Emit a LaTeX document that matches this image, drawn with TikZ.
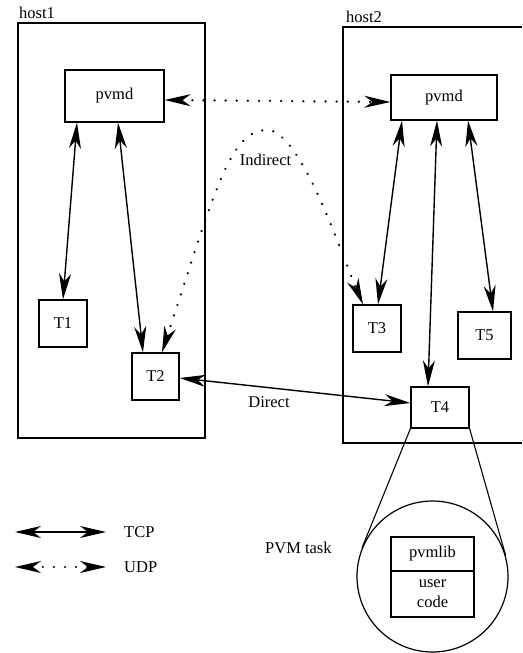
\documentclass[tikz,border=0pt]{standalone}
\usepackage{fontspec}
\setmainfont{Liberation Serif}
\usetikzlibrary{arrows.meta,calc}
\begin{document}
\begin{tikzpicture}[x=1pt,y=-1pt,
  every node/.style={font=\fontsize{16.5}{20}\selectfont, inner sep=0pt},
  box/.style={draw, line width=1.2pt, inner sep=0pt},
  frame/.style={line width=1.2pt},
  tcp/.style={line width=1.4pt, {Stealth[length=26pt,width=12pt,inset=8pt]}-{Stealth[length=26pt,width=12pt,inset=8pt]}},
  udp/.style={tcp, dash pattern=on 0.1pt off 11pt, line width=2.4pt, line cap=round},
  thinline/.style={line width=1.1pt}]
\fill[white] (0,0) rectangle (522,653);
\useasboundingbox (0,0) rectangle (522,653);
% hosts
\node[box, minimum width=187pt, minimum height=415pt] (h1) at (111.5,230.5) {};
\node[anchor=base west] (h1l) at (19,19) {host1};
\coordinate (h2a) at (522,27);
\coordinate (h2b) at (343,27);
\coordinate (h2c) at (343,443);
\coordinate (h2d) at (522,443);
\draw[frame] (h2a) -- (h2b) -- (h2c) -- (h2d);
\node[anchor=base west] (h2l) at (346,22) {host2};
% daemons and tasks
\node[box, minimum width=99pt, minimum height=52pt] (pv1) at (114.5,96) {pvmd};
\node[box, minimum width=106pt, minimum height=45pt] (pv2) at (444,97.5) {pvmd};
\node[box, minimum width=48pt, minimum height=47pt] (T1) at (63,323.5) {T1};
\node[box, minimum width=47pt, minimum height=47pt] (T2) at (155.5,376.5) {T2};
\node[box, minimum width=48pt, minimum height=47pt] (T3) at (377,328.5) {T3};
\node[box, minimum width=53pt, minimum height=47pt] (T5) at (484.5,335.5) {T5};
\node[box, minimum width=58pt, minimum height=41pt] (T4) at (440,407.5) {T4};
% connections
\draw[tcp] ([xshift=-37.5pt]pv1.south) -- (T1.north);
\draw[tcp] ([xshift=3.5pt]pv1.south) -- ([xshift=-12.5pt]T2.north);
\draw[udp] ([yshift=-4pt]pv1.east) -- ([yshift=-4.5pt]pv2.west);
\draw[tcp] ([xshift=-42pt]pv2.south) -- ([xshift=1pt]T3.north);
\draw[tcp] ([xshift=-7pt]pv2.south) -- ([xshift=-12pt]T4.north);
\draw[tcp] ([xshift=24pt]pv2.south) -- ([xshift=8.5pt]T5.north);
\draw[tcp] ([yshift=-1.5pt]T2.east) -- ([yshift=4.5pt]T4.west);
\coordinate (apex) at (267,130);
\draw[udp] ([xshift=6.5pt]T2.north) .. controls (215,190) and (230,130) .. (apex)
  .. controls (300,130) and (340,250) .. ([xshift=-14pt]T3.north);
\node (ind) at (265.5,160) {Indirect};
\node (dir) at (269,402) {Direct};
% zoomed task
\node[draw, circle, line width=1.2pt, minimum size=151pt] (C) at (432.5,576.5) {};
\draw[thinline] (T4.south west) -- (tangent cs:node=C,point={(T4.south west)},solution=1);
\draw[thinline] (T4.south east) -- (tangent cs:node=C,point={(T4.south east)},solution=2);
\node[box, minimum width=83pt, minimum height=34pt] (lib) at (432.5,554) {pvmlib};
\node[box, minimum width=83pt, minimum height=46pt, align=center] (usr) at (432.5,594) {user\\code};
\node[anchor=west] (task) at (265,548) {PVM task};
% legend
\coordinate (tcpL) at (15,532);
\coordinate (tcpR) at (106,532);
\draw[tcp] (tcpL) -- (tcpR);
\node[anchor=west] (tcpT) at (124,532) {TCP};
\coordinate (udpL) at (15,567);
\coordinate (udpR) at (106,567);
\draw[udp] (udpL) -- (udpR);
\node[anchor=west] (udpT) at (124,567) {UDP};
\end{tikzpicture}
\end{document}
